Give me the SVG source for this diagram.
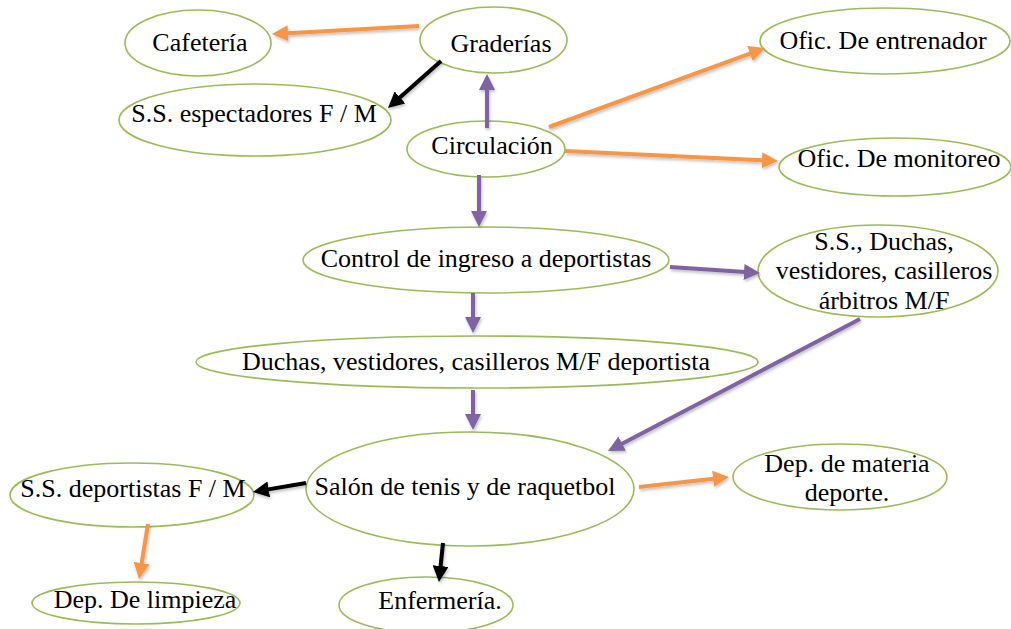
<svg xmlns="http://www.w3.org/2000/svg" width="1011" height="629" viewBox="0 0 1011 629">
<style>
.n{fill:#ffffff;stroke:#9BBB59;stroke-width:1.6}
.t{font-family:"Liberation Serif","Times New Roman",serif;font-size:26px;fill:#000;text-anchor:middle}
.c{fill:none;stroke-width:4}
.o{stroke:#F79646}
.p{stroke:#8064A2}
.k{stroke:#000000}
</style>
<defs>
<filter id="sh" x="-20%" y="-20%" width="140%" height="140%"><feDropShadow dx="1" dy="2" stdDeviation="1.5" flood-color="#000" flood-opacity="0.25"/></filter>
<marker id="ao" markerUnits="userSpaceOnUse" markerWidth="16" markerHeight="16" refX="5" refY="8" orient="auto"><path d="M0,0 L16,8 L0,16 z" fill="#F79646"/></marker>
<marker id="ap" markerUnits="userSpaceOnUse" markerWidth="16" markerHeight="16" refX="5" refY="8" orient="auto"><path d="M0,0 L16,8 L0,16 z" fill="#8064A2"/></marker>
<marker id="ak" markerUnits="userSpaceOnUse" markerWidth="16" markerHeight="16" refX="5" refY="8" orient="auto"><path d="M0,0 L16,8 L0,16 z" fill="#000000"/></marker>
</defs>
<rect width="1011" height="629" fill="#ffffff"/>
<g id="nodes-shapes">
<g id="cafeteria"><ellipse class="n" cx="198" cy="43" rx="73" ry="33"/><text class="t" x="200" y="51">Cafetería</text></g>
<g id="graderias"><ellipse class="n" cx="493.5" cy="40" rx="73.5" ry="33"/><text class="t" x="501" y="52">Graderías</text></g>
<g id="espectadores"><ellipse class="n" cx="255" cy="120" rx="136" ry="36"/><text class="t" x="254" y="122">S.S. espectadores F / M</text></g>
<g id="circulacion"><ellipse class="n" cx="486" cy="149" rx="79" ry="28"/><text class="t" x="492" y="154">Circulación</text></g>
<g id="entrenador"><ellipse class="n" cx="885" cy="41" rx="125" ry="33"/><text class="t" x="883" y="49">Ofic. De entrenador</text></g>
<g id="monitoreo"><ellipse class="n" cx="895" cy="167" rx="116" ry="29"/><text class="t" x="899" y="167">Ofic. De monitoreo</text></g>
<g id="control"><ellipse class="n" cx="486" cy="260" rx="183" ry="33"/><text class="t" x="486" y="267">Control de ingreso a deportistas</text></g>
<g id="arbitros"><ellipse class="n" cx="878" cy="271" rx="120" ry="46"/><text class="t" x="884" y="250">S.S., Duchas,</text><text class="t" x="884" y="279">vestidores, casilleros</text><text class="t" x="884" y="309">árbitros M/F</text></g>
<g id="duchas"><ellipse class="n" cx="477" cy="362" rx="281" ry="26"/><text class="t" x="476" y="370">Duchas, vestidores, casilleros M/F deportista</text></g>
<g id="salon"><ellipse class="n" cx="470" cy="489" rx="164" ry="57"/><text class="t" x="465" y="495">Salón de tenis y de raquetbol</text></g>
<g id="ssdeportistas"><ellipse class="n" cx="132" cy="495" rx="122" ry="32"/><text class="t" x="133" y="497">S.S. deportistas F / M</text></g>
<g id="limpieza"><ellipse class="n" cx="136" cy="603" rx="104" ry="21"/><text class="t" x="145" y="608">Dep. De limpieza</text></g>
<g id="enfermeria"><ellipse class="n" cx="426" cy="605" rx="87" ry="28"/><text class="t" x="440" y="609">Enfermería.</text></g>
<g id="materia"><ellipse class="n" cx="840" cy="477" rx="107" ry="33"/><text class="t" x="847" y="472">Dep. de materia</text><text class="t" x="847" y="501">deporte.</text></g>
</g>
<g id="connectors" filter="url(#sh)">
<line class="c o" x1="419" y1="26" x2="283" y2="33.4" marker-end="url(#ao)"/>
<line class="c k" x1="441" y1="61" x2="396.2" y2="100.7" marker-end="url(#ak)"/>
<line class="c p" x1="487" y1="128" x2="487" y2="85" marker-end="url(#ap)"/>
<line class="c o" x1="549" y1="127" x2="754.7" y2="51.8" marker-end="url(#ao)"/>
<line class="c o" x1="565" y1="151" x2="767" y2="160.5" marker-end="url(#ao)"/>
<line class="c p" x1="479" y1="175" x2="479" y2="216" marker-end="url(#ap)"/>
<line class="c p" x1="670" y1="267" x2="749" y2="272.3" marker-end="url(#ap)"/>
<line class="c p" x1="473" y1="293" x2="473" y2="322" marker-end="url(#ap)"/>
<line class="c p" x1="473" y1="390" x2="473" y2="419" marker-end="url(#ap)"/>
<line class="c p" x1="860" y1="319" x2="617.7" y2="445.9" marker-end="url(#ap)"/>
<line class="c k" x1="306" y1="483" x2="263.8" y2="490.1" marker-end="url(#ak)"/>
<line class="c o" x1="148" y1="524" x2="140.8" y2="568.1" marker-end="url(#ao)"/>
<line class="c k" x1="443" y1="543" x2="440.1" y2="571" marker-end="url(#ak)"/>
<line class="c o" x1="639" y1="487" x2="718" y2="478.2" marker-end="url(#ao)"/>
</g>
</svg>
